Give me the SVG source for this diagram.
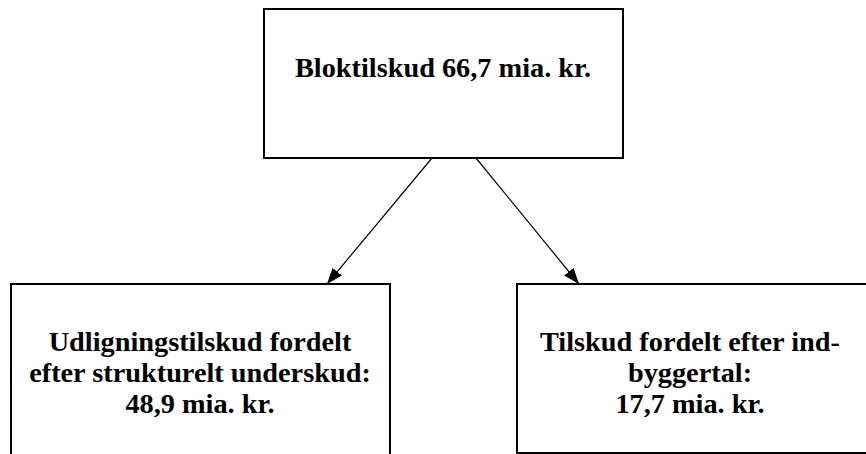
<svg xmlns="http://www.w3.org/2000/svg" width="866" height="454" viewBox="0 0 866 454">
<style>
.box{fill:#fff;stroke:#000;stroke-width:2}
.t{font-family:"Liberation Serif","Times New Roman",serif;font-weight:bold;font-size:28.3px;fill:#000;text-anchor:middle}
.c{stroke:#000;stroke-width:1.2;fill:none;marker-end:url(#ah)}
</style>
<defs>
<marker id="ah" viewBox="0 0 16 12" refX="16" refY="6" markerWidth="16" markerHeight="12" markerUnits="userSpaceOnUse" orient="auto">
<path d="M0,0 L16,6 L0,12 Z" fill="#000"/>
</marker>
</defs>
<rect width="866" height="454" fill="#fff"/>
<g id="top">
<rect class="box" x="264" y="9" width="359" height="149"/>
<text class="t" x="443" y="77">Bloktilskud 66,7 mia. kr.</text>
</g>
<g id="left">
<rect class="box" x="11" y="284" width="379" height="180"/>
<text class="t" x="200" y="351">Udligningstilskud fordelt</text>
<text class="t" x="200" y="382">efter strukturelt underskud:</text>
<text class="t" x="200" y="413">48,9 mia. kr.</text>
</g>
<g id="right">
<rect class="box" x="517" y="284" width="360" height="169"/>
<text class="t" x="690" y="351">Tilskud fordelt efter ind-</text>
<text class="t" x="690" y="382">byggertal:</text>
<text class="t" x="690" y="413">17,7 mia. kr.</text>
</g>
<g id="connectors">
<line class="c" x1="432" y1="158" x2="327" y2="284"/>
<line class="c" x1="476" y1="158" x2="579" y2="284"/>
</g>
</svg>
